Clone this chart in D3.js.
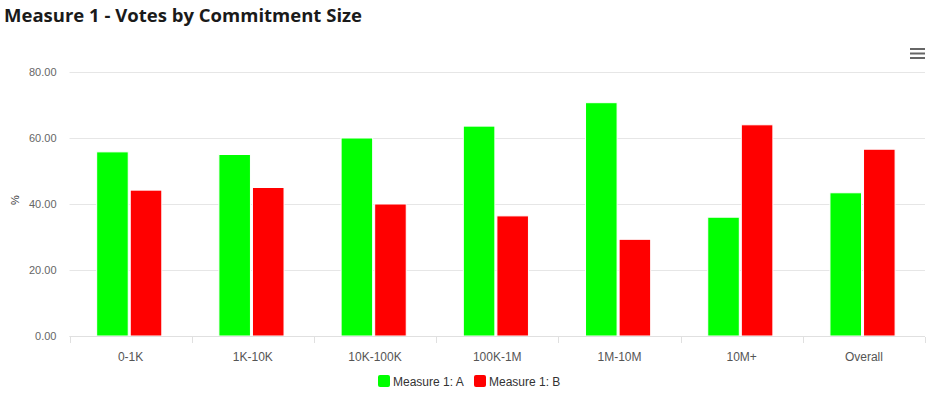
<!DOCTYPE html>
<html><head><meta charset="utf-8">
<script src="https://cdn.jsdelivr.net/npm/d3@7"></script>
<style>
html,body{margin:0;padding:0;background:#fff;}
svg{display:block;font-family:"Liberation Sans",Arial,sans-serif;}
</style>
</head><body>
<svg id="c" width="938" height="399"></svg>
<script>
const categories = ["0-1K","1K-10K","10K-100K","100K-1M","1M-10M","10M+","Overall"];
const seriesNames = ["Measure 1: A","Measure 1: B"];
const seriesColors = ["#00ff00","#ff0000"];
const valuesA = [55.8, 55.0, 60.0, 63.6, 70.7, 36.0, 43.4];
const valuesB = [44.2, 45.0, 40.0, 36.4, 29.3, 64.0, 56.6];
const yTicks = [0, 20, 40, 60, 80];
const title = "Measure 1 - Votes by Commitment Size";
const yTitle = "%";

const svg = d3.select("#c");
const plot = {left: 69.5, right: 925, top: 72, bottom: 336};

const x0 = d3.scaleBand().domain(categories).range([plot.left, plot.right]).padding(0);
const x1 = d3.scaleBand().domain(seriesNames).range([0, x0.bandwidth()]).paddingInner(0.06).paddingOuter(0.85).align(0.476);
const y = d3.scaleLinear().domain([0, 80]).range([plot.bottom, plot.top]);

// title
svg.append("text").attr("x", 4).attr("y", 22)
  .attr("font-family", "'Open Sans', 'DejaVu Sans', sans-serif")
  .attr("font-weight", "bold").attr("font-size", 18).attr("fill", "#1a1a1a")
  .attr("textLength", 358).attr("lengthAdjust", "spacingAndGlyphs")
  .text(title);

// grid
const yAxis = d3.axisLeft(y).tickValues(yTicks).tickFormat(d3.format(".2f")).tickSize(-(plot.right - plot.left)).tickPadding(10);
const gy = svg.append("g").attr("transform", `translate(${plot.left},0)`).call(yAxis);
gy.select(".domain").remove();
gy.selectAll(".tick line").attr("stroke", "#e6e6e6").attr("stroke-width", 1);
gy.selectAll(".tick text").attr("fill", "#666").attr("font-size", 11).attr("x", -13).attr("dy", "0.32em");

// y title
svg.append("text").attr("transform", `translate(19,200) rotate(-90)`)
  .attr("text-anchor", "middle").attr("font-size", 11).attr("fill", "#333").text(yTitle);

// bars
const data = categories.map((c, i) => ({cat: c, vals: [valuesA[i], valuesB[i]]}));
const groups = svg.append("g").selectAll("g").data(data).join("g")
  .attr("transform", d => `translate(${x0(d.cat)},0)`);
groups.selectAll("rect").data(d => d.vals.map((v, j) => ({name: seriesNames[j], v, color: seriesColors[j]})))
  .join("rect")
  .attr("x", d => x1(d.name))
  .attr("width", x1.bandwidth())
  .attr("y", d => y(d.v))
  .attr("height", d => plot.bottom - y(d.v))
  .attr("fill", d => d.color)
  .attr("stroke", "#fff").attr("stroke-width", 1);

// x axis
const xAxis = d3.axisBottom(x0).tickSize(0).tickPadding(0);
const gx = svg.append("g").attr("transform", `translate(0,${plot.bottom + 0.5})`).call(xAxis);
gx.select(".domain").attr("stroke", "#e0e0e0").attr("d", `M${plot.left},0H${plot.right}`);
gx.selectAll(".tick text").attr("fill", "#555").attr("font-size", 12).attr("y", 24).attr("dy", 0);
gx.selectAll(".tick line").remove();
// tick marks at category boundaries
const bounds = categories.map(c => x0(c)).concat([x0(categories[categories.length - 1]) + x0.bandwidth()]);
svg.append("g").selectAll("line").data(bounds).join("line")
  .attr("x1", d => Math.round(d) + 0.5).attr("x2", d => Math.round(d) + 0.5)
  .attr("y1", plot.bottom + 1).attr("y2", plot.bottom + 7)
  .attr("stroke", "#e0e0e0");

// legend
const legendItems = [{name: seriesNames[0], color: seriesColors[0], x: 378}, {name: seriesNames[1], color: seriesColors[1], x: 474}];
const lg = svg.append("g").selectAll("g").data(legendItems).join("g")
  .attr("transform", d => `translate(${d.x},375)`);
lg.append("rect").attr("width", 12).attr("height", 12).attr("rx", 2).attr("fill", d => d.color);
lg.append("text").attr("x", 15).attr("y", 11).attr("font-size", 12).attr("fill", "#333").text(d => d.name);

// menu icon
svg.append("g").selectAll("line").data([49, 53.5, 58]).join("line")
  .attr("x1", 910).attr("x2", 925).attr("y1", d => d).attr("y2", d => d)
  .attr("stroke", "#666").attr("stroke-width", 2);
</script>
</body></html>
